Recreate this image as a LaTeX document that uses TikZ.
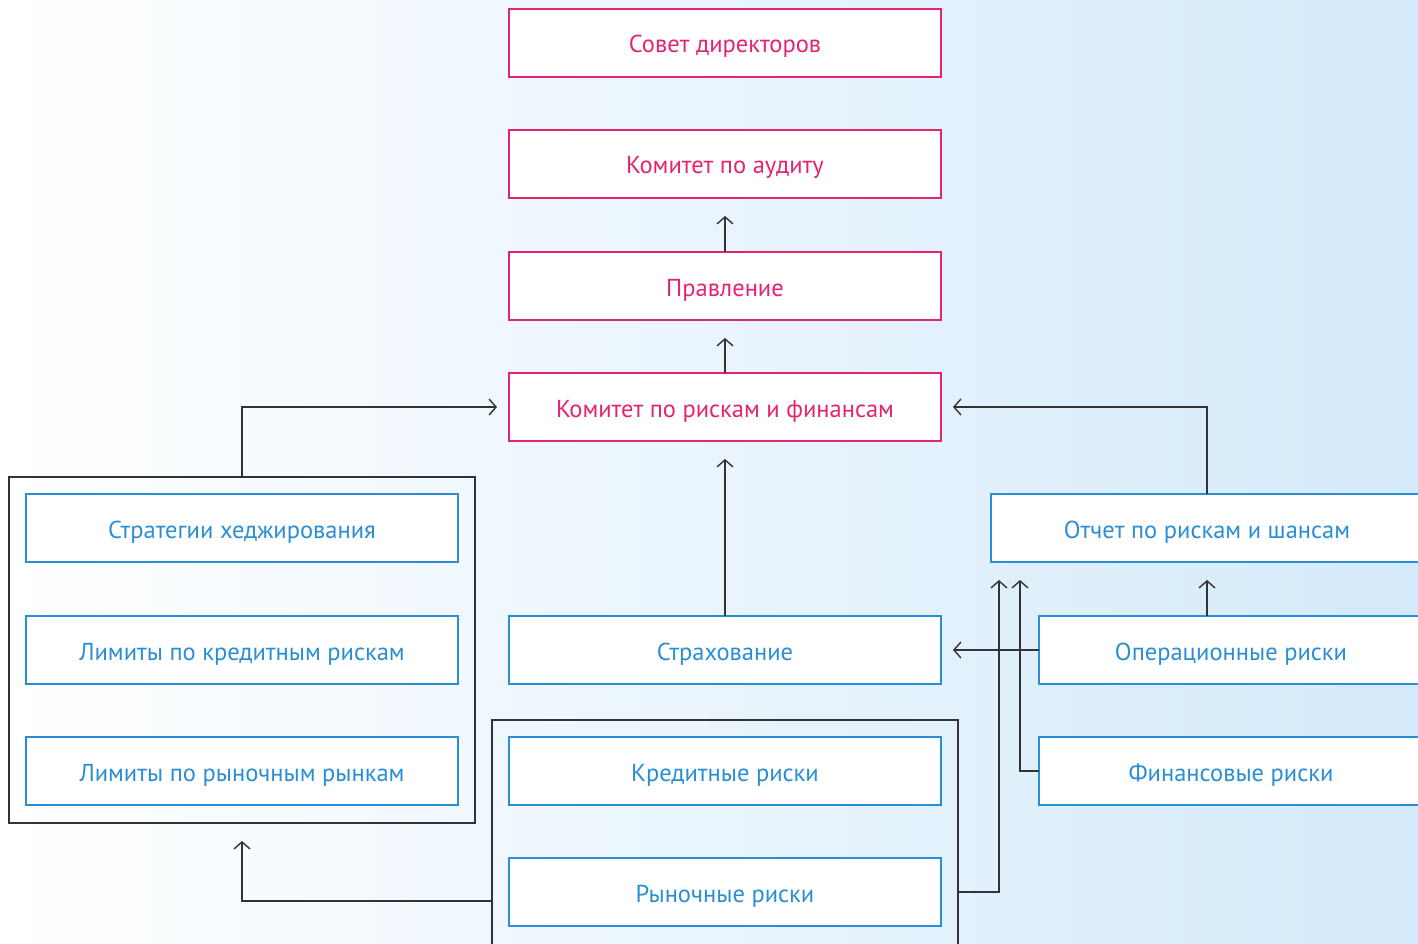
\documentclass[tikz,border=0pt]{standalone}
\usepackage{fontspec}
\setmainfont{PT Sans}
\usetikzlibrary{arrows.meta}
\definecolor{pinkc}{HTML}{E5246F}
\definecolor{bluec}{HTML}{2A8ED4}
\definecolor{bgblue}{HTML}{D4EAFA}
\definecolor{grp}{HTML}{333333}
\tikzset{
  base/.style={draw, fill=white, line width=1.3pt, minimum width=432pt, minimum height=68pt, inner sep=0pt, outer sep=0pt, text height=22pt, text depth=2pt, font=\fontsize{24.5}{28}\selectfont},
  pinkbox/.style={base, draw=pinkc, text=pinkc},
  bluebox/.style={base, draw=bluec, text=bluec},
  shortbox/.style={bluebox, minimum width=384pt},
  group/.style={draw=grp, line width=1.3pt, inner sep=0pt, outer sep=0pt},
  arr/.style={draw=grp, line width=1.4pt, -{Straight Barb[length=7pt,width=16pt,line width=1.4pt]}},
  ln/.style={draw=grp, line width=1.4pt}
}
\begin{document}
\begin{tikzpicture}[x=1pt,y=-1pt]
\useasboundingbox (0,0) rectangle (1418,944);
\shade[left color=white, right color=bgblue] (0,0) rectangle (1418,944);
\clip (0,0) rectangle (1418,944);
% groups
\node[group, minimum width=466pt, minimum height=346pt] (lg) at (242,650) {};
\node[group, minimum width=466pt, minimum height=230pt] (mg) at (725,835) {};
% pink boxes
\node[pinkbox] (sovet) at (725,43) {Совет директоров};
\node[pinkbox] (audit) at (725,164) {Комитет по аудиту};
\node[pinkbox] (prav) at (725,286) {Правление};
\node[pinkbox] (kom) at (725,407) {Комитет по рискам и финансам};
% left blue
\node[bluebox] (hedge) at (242,528) {Стратегии хеджирования};
\node[bluebox] (limk) at (242,650) {Лимиты по кредитным рискам};
\node[bluebox] (limr) at (242,771) {Лимиты по рыночным рынкам};
% middle blue
\node[bluebox] (strah) at (725,650) {Страхование};
\node[bluebox] (kred) at (725,771) {Кредитные риски};
\node[bluebox] (ryn) at (725,892) {Рыночные риски};
% right blue
\node[bluebox] (otch) at (1207,528) {Отчет по рискам и шансам};
\node[shortbox] (oper) at (1231,650) {Операционные риски};
\node[shortbox] (fin) at (1231,771) {Финансовые риски};
% coordinates
\coordinate (c1) at (999,562);
\coordinate (c2) at (1020,562);
\coordinate (c3) at (492,901);
% connectors
\draw[arr, shorten >=18pt] (prav.north) -- (audit.south);
\draw[arr, shorten >=18pt] (kom.north) -- (prav.south);
\draw[arr, shorten >=18pt] (strah.north) -- (kom.south);
\draw[arr, shorten >=12pt] (lg.north) |- (kom.west);
\draw[arr, shorten >=12pt] (otch.north) |- (kom.east);
\draw[arr, shorten >=12pt] (oper.west) -- (strah.east);
\draw[arr, shorten >=18pt] (oper.north -| otch.south) -- (otch.south);
\draw[arr, shorten >=18pt] (fin.west) -| (c2);
\draw[arr, shorten >=18pt] (mg.east |- ryn.east) -| (c1);
\draw[arr, shorten >=18pt] (c3) -| (lg.south);
\end{tikzpicture}
\end{document}
